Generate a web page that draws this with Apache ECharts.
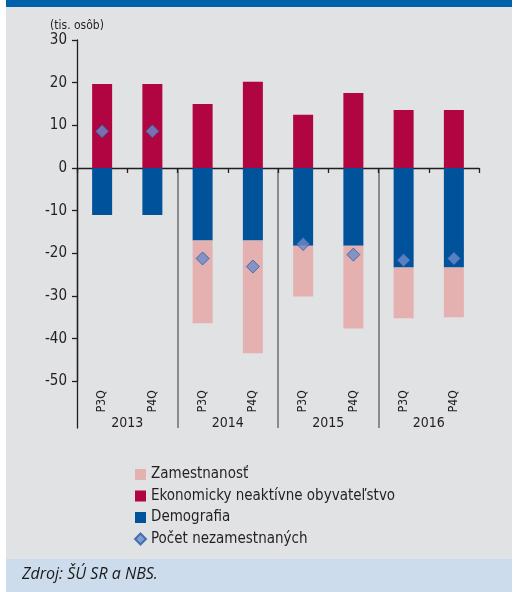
<!DOCTYPE html>
<html>
<head>
<meta charset="utf-8">
<script src="https://cdn.jsdelivr.net/npm/echarts@6/dist/echarts.min.js"></script>
<style>
  html, body { margin: 0; padding: 0; background: #ffffff; }
  #chart { width: 515px; height: 592px; }
</style>
</head>
<body>
<div id="chart"></div>
<script>
// Quarter labels along the bars and the year groups under them
const quarters = ['P3Q', 'P4Q', 'P3Q', 'P4Q', 'P3Q', 'P4Q', 'P3Q', 'P4Q'];
const years = ['2013', '2014', '2015', '2016'];

// Contributions to the change in unemployment (thousands of persons)
const zamestnanost = [0, 0, -19.4, -26.4, -11.9, -19.4, -11.9, -11.7];
const neaktivni = [19.7, 19.7, 15.0, 20.2, 12.5, 17.6, 13.6, 13.6];
const demografia = [-11.0, -11.0, -17.0, -17.0, -18.2, -18.2, -23.3, -23.3];
const nezamestnani = [8.6, 8.6, -21.2, -23.1, -17.8, -20.3, -21.6, -21.2];

// Value axis ticks
const yTicks = { min: -50, max: 30, step: 10 };

const FONT = "'Liberation Sans Narrow', 'DejaVu Sans Condensed', 'Liberation Sans', sans-serif";
const INK = '#231f20';

const chart = echarts.init(document.getElementById('chart'), null, { renderer: 'canvas' });

chart.setOption({
  animation: false,
  textStyle: { fontFamily: FONT, color: INK },
  graphic: [
    { type: 'rect', z: -10, silent: true, shape: { x: 6, y: 0, width: 506, height: 7 }, style: { fill: '#0060a9' } },
    { type: 'rect', z: -10, silent: true, shape: { x: 6, y: 7, width: 506, height: 552 }, style: { fill: '#e1e2e4' } },
    { type: 'rect', z: -10, silent: true, shape: { x: 6, y: 559, width: 506, height: 33 }, style: { fill: '#cddcec' } },
    { type: 'text', z: 10, left: 22, top: 566,
      style: { text: 'Zdroj: ŠÚ SR a NBS.', fill: '#1a1a1a', font: "italic 16px 'Open Sans', 'Noto Sans', sans-serif" } }
  ],
  legend: {
    orient: 'vertical',
    left: 134,
    top: 467,
    padding: 0,
    itemWidth: 11,
    itemHeight: 11,
    itemGap: 6.5,
    textStyle: { fontFamily: FONT, fontSize: 15, color: INK, padding: [0, 0, 0, 0] },
    data: [
      { name: 'Zamestnanosť', icon: 'rect' },
      { name: 'Ekonomicky neaktívne obyvateľstvo', icon: 'rect' },
      { name: 'Demografia', icon: 'rect' },
      { name: 'Počet nezamestnaných', icon: 'diamond' }
    ]
  },
  grid: [
    { left: 77, right: 36, top: 40, height: 341.33 },
    { left: 77, right: 36, top: 168, height: 260 }
  ],
  xAxis: [
    {
      // zero line with the quarter boundary ticks
      type: 'category', gridIndex: 0, data: quarters,
      axisLine: { onZero: true, lineStyle: { color: INK, width: 1.3 } },
      axisTick: { show: true, length: 5, lineStyle: { color: INK, width: 1.3 } },
      axisLabel: { show: false }
    },
    {
      // rotated quarter labels under the plot
      type: 'category', gridIndex: 0, data: quarters, position: 'bottom',
      axisLine: { show: false, onZero: false },
      axisTick: { show: false },
      axisLabel: { rotate: 90, margin: 9, fontSize: 12, color: INK, fontFamily: FONT }
    },
    {
      // year groups with separators
      type: 'category', gridIndex: 1, data: years, position: 'bottom',
      axisLine: { show: false },
      axisTick: { show: false },
      splitLine: { show: true, showMinLine: false, showMaxLine: false, lineStyle: { color: '#6e6e6e', width: 1.5 } },
      axisLabel: { margin: -12, fontSize: 14, color: INK, fontFamily: FONT }
    }
  ],
  yAxis: [
    {
      type: 'value', gridIndex: 0,
      min: yTicks.min, max: yTicks.max, interval: yTicks.step,
      name: '(tis. osôb)', nameLocation: 'end', nameGap: 8,
      nameTextStyle: { fontSize: 12, color: INK, fontFamily: FONT, align: 'center' },
      axisLine: { show: true, lineStyle: { color: INK, width: 1.3 } },
      axisTick: { show: true, length: 5, lineStyle: { color: INK, width: 1.3 } },
      axisLabel: { fontSize: 15, color: INK, margin: 10, fontFamily: FONT },
      splitLine: { show: false }
    },
    {
      type: 'value', gridIndex: 1, min: 0, max: 1,
      axisLine: { show: true, lineStyle: { color: INK, width: 1.3 } },
      axisTick: { show: false },
      axisLabel: { show: false },
      splitLine: { show: false }
    }
  ],
  series: [
    {
      name: 'Demografia', type: 'bar', stack: 'total', xAxisIndex: 0, yAxisIndex: 0,
      barWidth: 20, itemStyle: { color: '#00529b' }, data: demografia
    },
    {
      name: 'Zamestnanosť', type: 'bar', stack: 'total', xAxisIndex: 0, yAxisIndex: 0,
      barWidth: 20, itemStyle: { color: '#e5b0b0' }, data: zamestnanost
    },
    {
      name: 'Ekonomicky neaktívne obyvateľstvo', type: 'bar', stack: 'total', xAxisIndex: 0, yAxisIndex: 0,
      barWidth: 20, itemStyle: { color: '#b00540' }, data: neaktivni
    },
    {
      name: 'Počet nezamestnaných', type: 'scatter', xAxisIndex: 0, yAxisIndex: 0,
      symbol: 'diamond', symbolSize: 13, z: 5,
      itemStyle: { color: '#6b8cc8', borderColor: '#2b5ba6', borderWidth: 1 },
      data: nezamestnani
    }
  ]
});
</script>
</body>
</html>
